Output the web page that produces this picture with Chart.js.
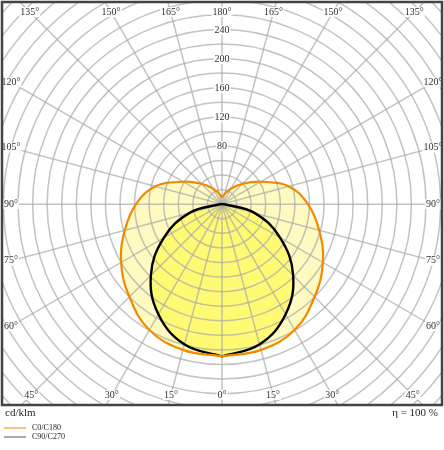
<!DOCTYPE html>
<html>
<head>
<meta charset="utf-8">
<script src="https://cdn.jsdelivr.net/npm/chart.js@4.4.1/dist/chart.umd.min.js"></script>
<style>
  html, body { margin: 0; padding: 0; background: #fff; }
  #wrap { width: 444px; height: 450px; position: relative; }
</style>
</head>
<body>
<div id="wrap"><canvas id="chart" width="444" height="450"></canvas></div>
<script>
// gamma angles (0° = straight down), intensity in cd/klm
const angles = [0, 15, 30, 45, 60, 75, 90, 105, 120, 135, 150, 165, 180];
const c0c180 = [210, 208, 200, 180, 160, 138, 118, 95, 62, 40, 25, 15, 10];
const c90c270 = [210, 200, 175, 138, 92, 46, 3, 0, 0, 0, 0, 0, 0];
const ringLabels = [80, 120, 160, 200, 240];
const angleLabels = [0, 15, 30, 45, 60, 75, 90, 105, 120, 135, 150, 165, 180];

const FONT = '"Liberation Serif", "DejaVu Serif", serif';

// turn a C-plane curve into a closed loop of x/y points
function loop(values) {
  const pts = [];
  angles.forEach((a, i) => {
    const t = a * Math.PI / 180;
    pts.push({ x: values[i] * Math.sin(t), y: -values[i] * Math.cos(t) });
  });
  for (let i = angles.length - 2; i >= 0; i--) {
    const t = angles[i] * Math.PI / 180;
    pts.push({ x: -values[i] * Math.sin(t), y: -values[i] * Math.cos(t) });
  }
  return pts;
}

const polarGrid = {
  id: "polarGrid",
  beforeDatasetsDraw(chart) {
    const { ctx, chartArea: ca, scales: { x, y } } = chart;
    const cx = x.getPixelForValue(0), cy = y.getPixelForValue(0);
    const k = x.getPixelForValue(100) - cx;
    ctx.save();
    ctx.beginPath();
    ctx.rect(ca.left, ca.top, ca.right - ca.left, ca.bottom - ca.top);
    ctx.clip();

    // fills behind the grid lines
    const fills = ["rgba(255, 246, 140, 0.55)", "rgba(255, 250, 90, 0.75)"];
    chart.data.datasets.forEach((ds, i) => {
      const meta = chart.getDatasetMeta(i);
      ctx.beginPath();
      meta.dataset.path(ctx);
      ctx.closePath();
      ctx.fillStyle = fills[i];
      ctx.fill();
    });

    ctx.strokeStyle = "rgba(170,170,170,0.7)";
    ctx.lineWidth = 1.5;
    for (let r = 20; r <= 420; r += 20) {
      ctx.beginPath();
      ctx.arc(cx, cy, r * k / 100, 0, Math.PI * 2);
      ctx.stroke();
    }
    for (let a = 0; a < 360; a += 15) {
      const t = a * Math.PI / 180;
      ctx.beginPath();
      ctx.moveTo(cx, cy);
      ctx.lineTo(cx + 600 * Math.sin(t), cy + 600 * Math.cos(t));
      ctx.stroke();
    }
    ctx.restore();
  },
  afterDatasetsDraw(chart) {
    const { ctx, chartArea: ca, scales: { x, y } } = chart;
    const cx = x.getPixelForValue(0), cy = y.getPixelForValue(0);
    ctx.save();
    ctx.font = "10px " + FONT;
    ctx.fillStyle = "#333";
    ctx.textAlign = "center";
    ctx.textBaseline = "middle";
    ringLabels.forEach(v => {
      const py = y.getPixelForValue(v);
      const w = ctx.measureText(v).width;
      ctx.fillStyle = "rgba(255,255,255,0.85)";
      ctx.fillRect(cx - w / 2 - 1, py - 5, w + 2, 10);
      ctx.fillStyle = "#333";
      ctx.fillText(v, cx, py);
    });
    // angle labels where rays meet an inset frame
    const L = ca.left + 9, R = ca.right - 9, T = ca.top + 10, B = ca.bottom - 10;
    angleLabels.forEach(a => {
      [1, -1].forEach(side => {
        if ((a === 0 || a === 180) && side < 0) return;
        const t = a * Math.PI / 180;
        const dx = side * Math.sin(t), dy = Math.cos(t);
        let s = Infinity;
        if (dx > 1e-6) s = Math.min(s, (R - cx) / dx);
        if (dx < -1e-6) s = Math.min(s, (L - cx) / dx);
        if (dy > 1e-6) s = Math.min(s, (B - cy) / dy);
        if (dy < -1e-6) s = Math.min(s, (T - cy) / dy);
        const px = cx + s * dx, py = cy + s * dy;
        const txt = a + "°";
        const w = ctx.measureText(txt).width;
        ctx.fillStyle = "rgba(255,255,255,0.85)";
        ctx.fillRect(px - w / 2 - 1, py - 5, w + 2, 10);
        ctx.fillStyle = "#333";
        ctx.fillText(txt, px, py);
      });
    });
    // frame
    ctx.strokeStyle = "#444";
    ctx.lineWidth = 2.5;
    ctx.strokeRect(ca.left, ca.top, ca.right - ca.left, ca.bottom - ca.top);
    // footer texts
    ctx.fillStyle = "#222";
    ctx.font = "11px " + FONT;
    ctx.textBaseline = "middle";
    ctx.textAlign = "left";
    ctx.fillText("cd/klm", 5, 413);
    ctx.textAlign = "right";
    ctx.fillText("η = 100 %", 438, 413);
    ctx.font = "8px " + FONT;
    ctx.textAlign = "left";
    const leg = [["C0/C180", "#f08a00"], ["C90/C270", "#555"]];
    leg.forEach(([lab, col], i) => {
      const ly = 428 + i * 9;
      ctx.strokeStyle = col;
      ctx.lineWidth = 1;
      ctx.beginPath();
      ctx.moveTo(4, ly);
      ctx.lineTo(26, ly);
      ctx.stroke();
      ctx.fillStyle = "#222";
      ctx.fillText(lab, 32, ly);
    });
    ctx.restore();
  }
};

new Chart(document.getElementById("chart"), {
  type: "scatter",
  data: {
    datasets: [
      { label: "C0/C180", data: loop(c0c180), showLine: true, borderColor: "#f08a00", borderWidth: 2.2, pointRadius: 0, tension: 0.4, fill: false },
      { label: "C90/C270", data: loop(c90c270), showLine: true, borderColor: "#000", borderWidth: 2.4, pointRadius: 0, tension: 0.4, fill: false }
    ]
  },
  options: {
    animation: false,
    responsive: false,
    layout: { padding: { left: 2, right: 2, top: 2, bottom: 45 } },
    plugins: { legend: { display: false }, tooltip: { enabled: false } },
    scales: {
      x: { display: false, min: -302, max: 302 },
      y: { display: false, min: -277, max: 279 }
    }
  },
  plugins: [polarGrid]
});
</script>
</body>
</html>
